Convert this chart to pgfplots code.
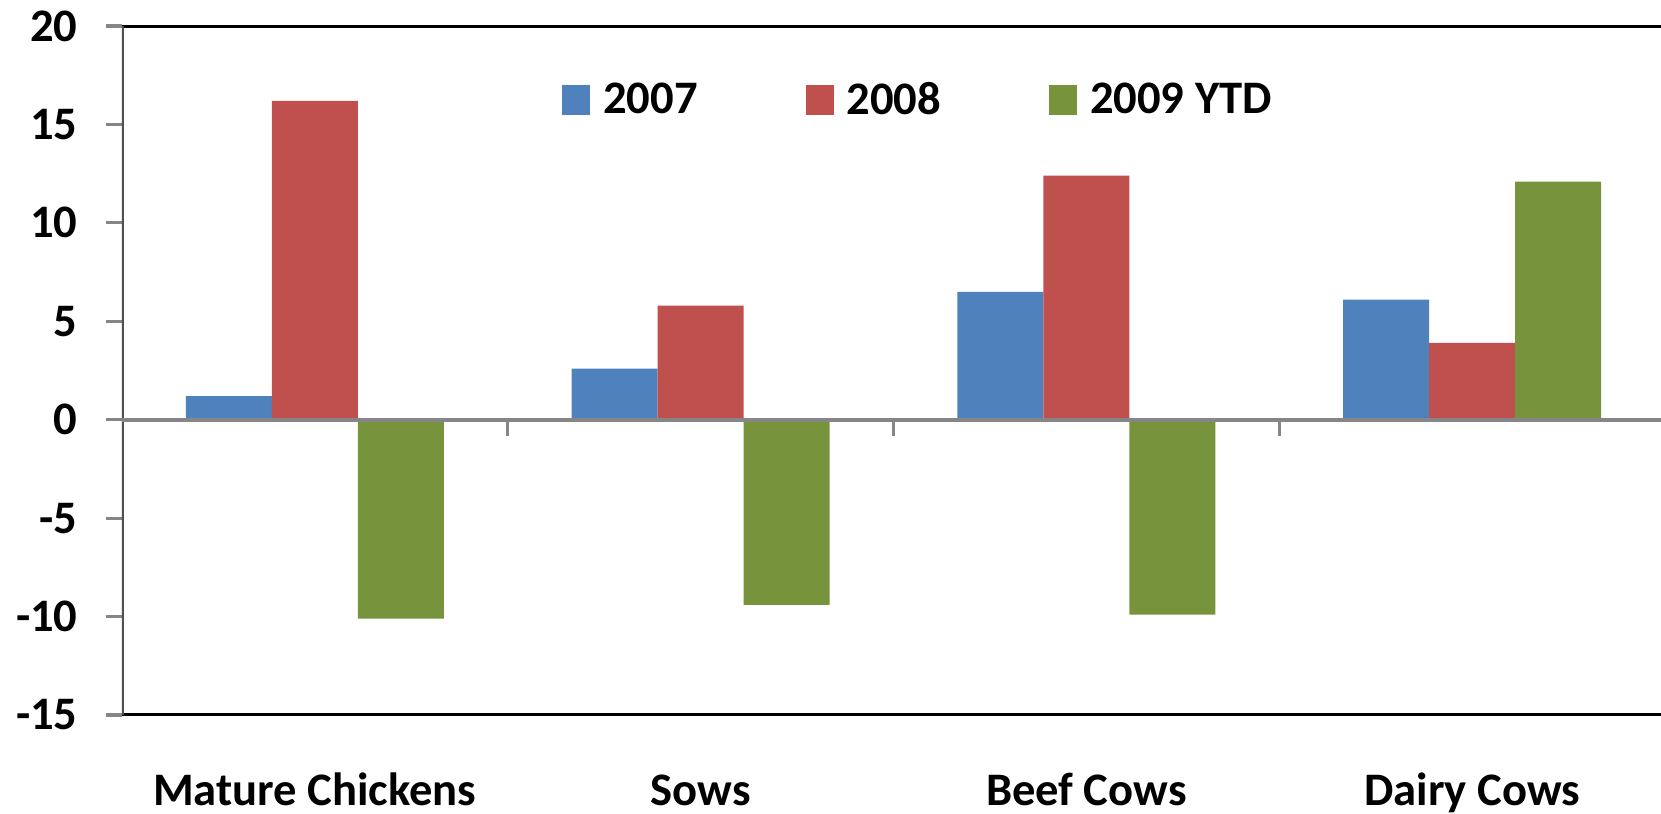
\documentclass[border=0pt]{standalone}
\usepackage{fontspec}
\setmainfont{Carlito}
\usepackage{pgfplots}
\pgfplotsset{compat=1.18}

\definecolor{c07}{HTML}{4F81BD}
\definecolor{c08}{HTML}{C0504D}
\definecolor{c09}{HTML}{77933C}
\definecolor{axisgray}{HTML}{868686}
\definecolor{leftline}{HTML}{505050}
\newcommand\chartfont{\fontsize{23.3}{28}\selectfont\bfseries}

% Annual change by class of livestock
\pgfplotstableread{
x  y2007 y2008 y2009
0  1.2   16.2  -10.1
1  2.6   5.8   -9.4
2  6.5   12.4  -9.9
3  6.1   3.9   12.1
}\herdtable

\begin{document}
\begin{tikzpicture}
\begin{axis}[
  name=ax,
  scale only axis,
  width=771.5pt, height=344.5pt,
  xmin=-0.5, xmax=3.5,
  ymin=-15, ymax=20,
  ybar=0pt, bar width=0.223,
  axis line style={draw=none},
  xtick={0,1,2,3},
  xticklabels={Mature Chickens,Sows,Beef Cows,Dairy Cows},
  xtick style={draw=none},
  ytick={-15,-10,-5,0,5,10,15,20},
  yticklabels={-15,-10,-5,0,5,10,15,20},
  ytick style={draw=axisgray, line width=1.6pt},
  tick align=outside,
  major tick length=8pt,
  tick label style={font=\chartfont, text=black},
  yticklabel style={anchor=east, inner sep=0pt, xshift=-14pt},
  xticklabel style={anchor=base, inner sep=0pt, yshift=-37pt},
  legend columns=3,
  legend cell align=left,
  legend style={at={(axis description cs:0.5152,0.8926)}, anchor=center,
    draw=none, fill=none, font=\chartfont, inner sep=0pt,
    nodes={inner sep=0pt},
    column sep=6.5pt,
    /tikz/every even column/.append style={column sep=54pt}},
  legend image code/.code={\fill[#1] (0pt,-7.3pt) rectangle (14pt,7.3pt);},
]
\addplot[fill=c07, draw=none] table[x=x, y=y2007] {\herdtable};
\addplot[fill=c08, draw=none] table[x=x, y=y2008] {\herdtable};
\addplot[fill=c09, draw=none] table[x=x, y=y2009] {\herdtable};
\legend{2007,2008,2009 YTD}

% frame of the plot area
\draw[black, line width=2.5pt] (rel axis cs:0,1) -- (rel axis cs:1,1);
\draw[black, line width=2.5pt] (rel axis cs:0,0) -- (rel axis cs:1,0);
\draw[leftline, line width=1.6pt] (rel axis cs:0,0) -- (rel axis cs:0,1);
% category axis through zero, with ticks between the groups
\draw[axisgray, line width=2pt] (axis cs:-0.5,0) -- (axis cs:3.5,0);
\draw[axisgray, line width=1.5pt] (axis cs:0.5,0) -- ++(0pt,-8pt);
\draw[axisgray, line width=1.5pt] (axis cs:1.5,0) -- ++(0pt,-8pt);
\draw[axisgray, line width=1.5pt] (axis cs:2.5,0) -- ++(0pt,-8pt);
\end{axis}
\pgfresetboundingbox
\path[use as bounding box] (ax.south west) ++(-61pt,-49.5pt) rectangle ++(830.5pt,407pt);
\end{tikzpicture}
\end{document}
